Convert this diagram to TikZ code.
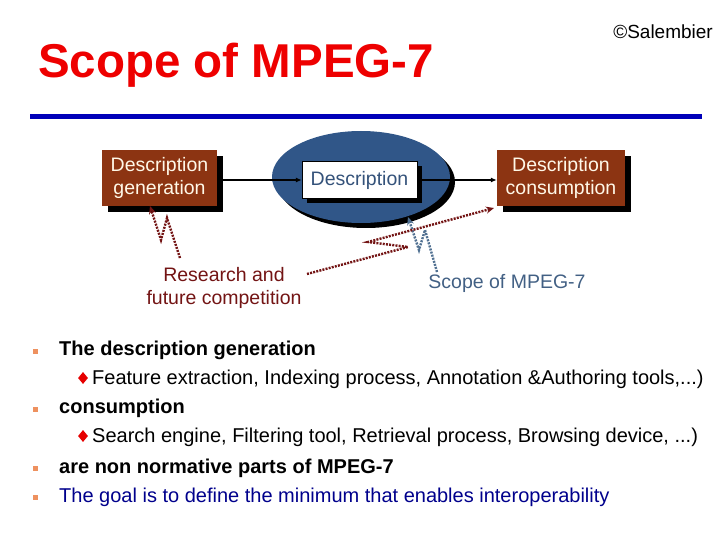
\documentclass[tikz,border=0pt]{standalone}
\usepackage{fontspec}
\setmainfont{Liberation Sans}
\usetikzlibrary{arrows.meta,shapes.geometric,shadows}
\definecolor{titlered}{RGB}{238,0,0}
\definecolor{rulebl}{RGB}{0,0,185}
\definecolor{boxbrown}{RGB}{140,52,18}
\definecolor{boxtext}{RGB}{255,248,232}
\definecolor{ellblue}{RGB}{48,86,136}
\definecolor{desctext}{RGB}{52,82,122}
\definecolor{maroon}{RGB}{115,20,20}
\definecolor{steel}{RGB}{66,96,132}
\definecolor{boltsteel}{RGB}{80,112,145}
\definecolor{goalblue}{RGB}{0,0,140}
\definecolor{diamred}{RGB}{230,0,0}
\definecolor{markorange}{RGB}{238,145,95}
\tikzset{
  brownbox/.style={fill=boxbrown, text=boxtext, align=center, inner sep=0pt,
    minimum height=56pt, font=\fontsize{19.5}{23}\selectfont,
    drop shadow={shadow xshift=6pt, shadow yshift=-6pt, fill=black, opacity=1}},
  whitebox/.style={fill=white, draw=black, line width=0.4pt, text=desctext, inner sep=0pt,
    minimum width=115pt, minimum height=37pt, font=\fontsize{19.5}{23}\selectfont,
    drop shadow={shadow xshift=5pt, shadow yshift=-5pt, fill=black, opacity=1}},
  solidarrow/.style={draw=black, line width=1.4pt, -{Latex[length=6pt,width=5pt]}},
  dotarrow/.style={line width=2.4pt, dash pattern=on 2pt off 1.2pt,
    -{Stealth[length=8pt,width=7pt]}},
  bodytext/.style={anchor=base west, inner sep=0pt, font=\fontsize{20}{23}\selectfont},
  boldtext/.style={anchor=base west, inner sep=0pt, font=\fontsize{20}{23}\selectfont\bfseries},
  marker/.style={fill=markorange, minimum size=5pt, inner sep=0pt},
  subdiam/.style={diamond, fill=diamred, minimum width=10pt, minimum height=12pt, inner sep=0pt}
}
\begin{document}
\begin{tikzpicture}[x=1pt,y=-1pt]
\useasboundingbox (0,0) rectangle (720,540);
% title
\node[anchor=base west, inner sep=0pt, text=titlered, font=\fontsize{47.5}{50}\selectfont\bfseries] (title) at (38,78) {Scope of MPEG-7};
\node[anchor=base east, inner sep=0pt, font=\fontsize{19}{22}\selectfont] (copy) at (713,39) {©Salembier};
\fill[rulebl] (30,114) rectangle (702,119.5);
% ellipse
\node[ellipse, fill=ellblue, minimum width=178pt, minimum height=92pt, inner sep=0pt,
  drop shadow={shadow xshift=5pt, shadow yshift=-5pt, fill=black, opacity=1}] (ell) at (361,177) {};
% boxes
\node[brownbox, minimum width=115pt] (gen) at (159.5,178) {Description\\generation};
\node[brownbox, minimum width=128pt] (cons) at (561,178) {Description\\consumption};
\node[whitebox] (desc) at (359.5,180) {Description};
\draw[solidarrow] (gen.east |- desc.west) -- (desc.west);
\draw[solidarrow] (desc.east) -- (cons.west |- desc.east);
% labels
\node[text=maroon, align=center, inner sep=0pt, font=\fontsize{19.5}{23}\selectfont, anchor=base] (res) at (224,304) {Research and\\future competition};
\node[text=steel, inner sep=0pt, font=\fontsize{19.5}{23}\selectfont, anchor=base] (scope) at (507,288) {Scope of MPEG-7};
% lightning connectors
\coordinate (g0) at (180,258);
\coordinate (g1) at (167,218);
\coordinate (g2) at (161,240);
\coordinate (g3) at (150,206);
\draw[dotarrow, maroon] (g0) -- (g1) -- (g2) -- (g3);
\coordinate (s0) at (437,272);
\coordinate (s1) at (425,230);
\coordinate (s2) at (419,250);
\coordinate (s3) at (408,217);
\draw[dotarrow, boltsteel] (s0) -- (s1) -- (s2) -- (s3);
\coordinate (r0) at (307,274);
\coordinate (r1) at (408,247);
\coordinate (r2) at (368,242);
\coordinate (r3) at (494,208);
\draw[dotarrow, maroon] (r0) -- (r1) -- (r2) -- (r3);
% bullets
\node[marker] (m1) at (35,351) {};
\node[marker] (m2) at (35,409) {};
\node[marker] (m3) at (35,468) {};
\node[marker] (m4) at (35,497) {};
\node[boldtext] (b1) at (59,355) {The description generation};
\node[subdiam] (d1) at (83,378) {};
\node[bodytext] (b2) at (92,384) {Feature extraction, Indexing process, Annotation \&Authoring tools,...)};
\node[boldtext] (b3) at (59,413) {consumption};
\node[subdiam] (d2) at (83,436) {};
\node[bodytext] (b4) at (92,442) {Search engine, Filtering tool, Retrieval process, Browsing device, ...)};
\node[boldtext] (b5) at (59,473) {are non normative parts of MPEG-7};
\node[bodytext, text=goalblue] (b6) at (59,502) {The goal is to define the minimum that enables interoperability};
\end{tikzpicture}
\end{document}
